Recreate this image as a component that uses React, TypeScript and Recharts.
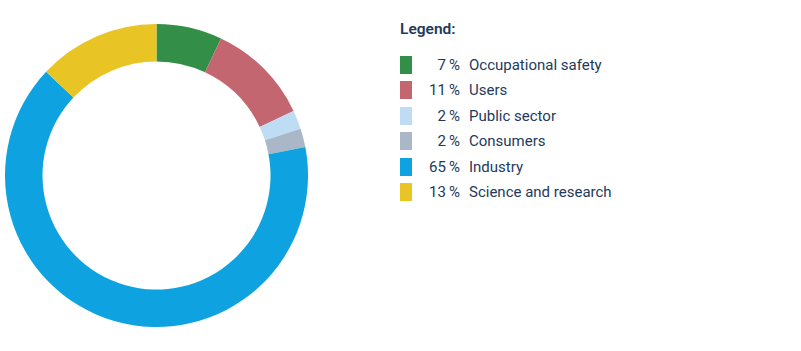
import { Cell, Legend, Pie, PieChart } from "recharts";

const CATEGORIES = ["Occupational safety", "Users", "Public sector", "Consumers", "Industry", "Science and research"];
const SHARES = [7, 11, 2, 2, 65, 13];
const COLORS = ["#338f47", "#c4666f", "#bfdcf5", "#a9b7c6", "#0ea3e0", "#e8c424"];

const TEXT_COLOR = "#1d3a5c";

const data = CATEGORIES.map((name, i) => ({ name, value: SHARES[i] }));

const LegendContent = () => (
    <div style={{ fontFamily: "Roboto, 'Noto Sans', sans-serif", color: TEXT_COLOR }}>
        <div style={{ fontSize: 15.5, fontWeight: 600, height: 20, lineHeight: "20px", marginBottom: 13 }}>
            Legend:
        </div>
        {data.map((entry, index) => (
            <div
                key={entry.name}
                style={{ display: "flex", alignItems: "center", height: 25.5, fontSize: 15 }}
            >
                <span style={{ width: 12, height: 18, background: COLORS[index], display: "inline-block" }} />
                <span style={{ width: 48, textAlign: "right", display: "inline-block" }}>
                    {entry.value}&thinsp;%
                </span>
                <span style={{ marginLeft: 9 }}>{entry.name}</span>
            </div>
        ))}
    </div>
);

const App = () => {
    return (
        <div style={{ width: 801, height: 351, position: "relative", background: "#fff" }}>
            <style>{"body{margin:0}"}</style>
            <PieChart width={801} height={351} margin={{ top: 0, right: 0, bottom: 0, left: 0 }}>
                <Pie
                    data={data}
                    dataKey="value"
                    nameKey="name"
                    cx={156.5}
                    cy={175.5}
                    innerRadius={114}
                    outerRadius={151.5}
                    startAngle={90}
                    endAngle={-270}
                    stroke="none"
                    isAnimationActive={false}
                >
                    {data.map((entry, index) => (
                        <Cell key={entry.name} fill={COLORS[index]} />
                    ))}
                </Pie>
                <Legend
                    content={<LegendContent />}
                    wrapperStyle={{ position: "absolute", left: 400, top: 19, width: 300 }}
                />
            </PieChart>
        </div>
    );
};

export default App;
